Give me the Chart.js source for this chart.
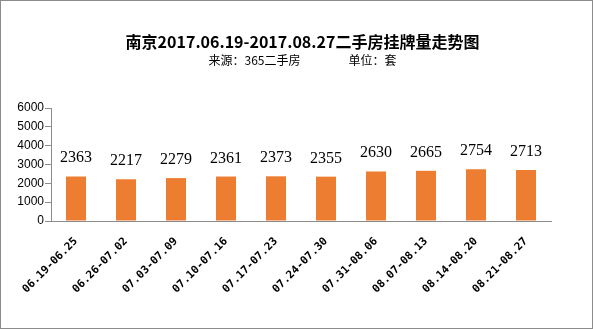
<!DOCTYPE html>
<html>
<head>
<meta charset="utf-8">
<script src="https://cdn.jsdelivr.net/npm/chart.js@4"></script>
<style>
  html, body { margin: 0; padding: 0; background: #fff; }
  #wrap { width: 593px; height: 329px; }
</style>
</head>
<body>
<div id="wrap"><canvas id="listingChart" width="593" height="329"></canvas></div>
<script>
const weeks = ['06.19-06.25', '06.26-07.02', '07.03-07.09', '07.10-07.16', '07.17-07.23',
               '07.24-07.30', '07.31-08.06', '08.07-08.13', '08.14-08.20', '08.21-08.27'];
const listings = [2363, 2217, 2279, 2361, 2373, 2355, 2630, 2665, 2754, 2713];
const yTicks = [0, 1000, 2000, 3000, 4000, 5000, 6000];

// white page + grey frame round the whole picture
const framePlugin = {
    id: 'frame',
    beforeDraw: (chart) => {
        const c = chart.ctx;
        c.save();
        c.fillStyle = '#fff';
        c.fillRect(0, 0, chart.width, chart.height);
        c.strokeStyle = '#8c8c8c';
        c.lineWidth = 1;
        c.strokeRect(0.5, 0.5, chart.width - 1, chart.height - 1);
        c.restore();
    }
};

// numbers above each bar
const valueLabels = {
    id: 'valueLabels',
    afterDatasetsDraw: (chart) => {
        const c = chart.ctx;
        const meta = chart.getDatasetMeta(0);
        c.save();
        c.font = '16px "Liberation Serif"';
        c.fillStyle = '#000';
        c.textAlign = 'center';
        c.textBaseline = 'alphabetic';
        meta.data.forEach((bar, i) => {
            c.fillText(listings[i], bar.x, bar.y - 14);
        });
        c.restore();
    }
};

let ctx = document.getElementById('listingChart').getContext('2d');
let listingChart = new Chart(ctx, {
    type: 'bar',
    data: {
        labels: weeks,
        datasets: [{
            data: listings,
            yAxisID: 'y',
            backgroundColor: '#ED7D31',
            categoryPercentage: 0.8,
            barPercentage: 0.5
        }]
    },
    options: {
        responsive: false,
        animation: false,
        layout: { padding: { left: 12, right: 0, top: 0, bottom: 0 } },
        plugins: {
            legend: { display: false },
            tooltip: { enabled: false },
            title: {
                display: true,
                text: '南京2017.06.19-2017.08.27二手房挂牌量走势图',
                color: '#000',
                font: { family: '"Noto Sans CJK SC"', size: 16, weight: 'bold' },
                padding: { top: 32, bottom: 2 }
            },
            subtitle: {
                display: true,
                text: '来源：365二手房\u3000\u3000\u3000\u3000单位：套',
                color: '#000',
                font: { family: '"Noto Sans CJK SC"', size: 12 },
                padding: { top: 0, bottom: 40.4 }
            }
        },
        scales: {
            x: {
                afterFit: (scale) => { scale.height = 108; },
                border: { display: true, color: '#8c8c8c' },
                grid: { display: false },
                ticks: {
                    color: '#000',
                    font: { family: '"DejaVu Sans Mono"', size: 11, weight: 'bold' },
                    minRotation: 45,
                    maxRotation: 45,
                    autoSkip: false,
                    padding: 6
                }
            },
            y: {
                min: 0,
                max: 6000,
                afterFit: (scale) => { scale.width = 39; },
                afterBuildTicks: (scale) => { scale.ticks = yTicks.map(v => ({ value: v })); },
                border: { display: true, color: '#8c8c8c' },
                grid: { drawOnChartArea: false, tickLength: 6, color: '#8c8c8c' },
                ticks: {
                    color: '#000',
                    font: { family: '"Liberation Sans"', size: 12 },
                    padding: 1,
                    callback: (v) => String(v)
                }
            },
            // empty right-hand margin so the titles centre on the page
            yRight: {
                position: 'right',
                min: 0,
                max: 6000,
                afterFit: (scale) => { scale.width = 42; },
                border: { display: false },
                grid: { display: false },
                ticks: { display: false }
            }
        }
    },
    plugins: [framePlugin, valueLabels]
});
</script>
</body>
</html>
